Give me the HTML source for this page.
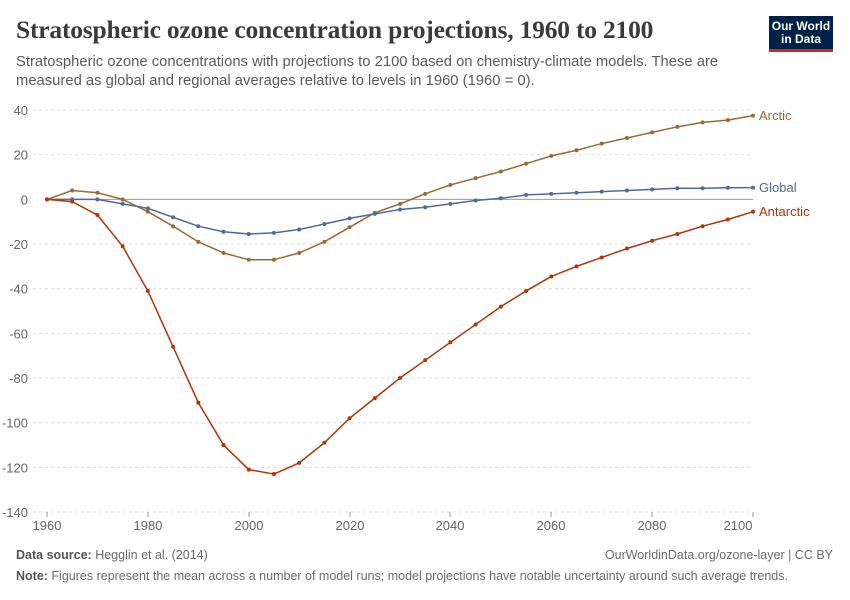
<!DOCTYPE html>
<html><head><meta charset="utf-8"><style>
body{margin:0;background:#fff;width:850px;height:600px;overflow:hidden;font-family:"Liberation Sans",sans-serif;}
.t{position:absolute;left:16px;top:15px;font-family:"Liberation Serif",serif;font-weight:bold;font-size:25.5px;color:#3b3b3b;letter-spacing:-0.2px}
.s{position:absolute;left:16px;top:53px;font-size:14.8px;line-height:19px;color:#5b5b5b;width:760px}
.logo{position:absolute;left:769px;top:16px;width:64px;background:#002147;border-bottom:3px solid #ce261e;color:#fff;font-size:12px;font-weight:bold;line-height:13px;text-align:center;padding-top:4px;box-sizing:content-box;height:29px}
.f{position:absolute;font-size:12.5px;color:#6b6b6b}
</style></head><body>
<div class="t">Stratospheric ozone concentration projections, 1960 to 2100</div>
<div class="s">Stratospheric ozone concentrations with projections to 2100 based on chemistry-climate models. These are measured as global and regional averages relative to levels in 1960 (1960 = 0).</div>
<div class="logo">Our World<br>in Data</div>
<svg width="850" height="600" style="position:absolute;left:0;top:0">
<g stroke="#ddd" stroke-dasharray="3,3" stroke-width="1">
<line x1="33" x2="753" y1="110" y2="110"/><line x1="33" x2="753" y1="154.7" y2="154.7"/>
<line x1="33" x2="753" y1="244" y2="244"/><line x1="33" x2="753" y1="288.7" y2="288.7"/><line x1="33" x2="753" y1="333.4" y2="333.4"/><line x1="33" x2="753" y1="378" y2="378"/><line x1="33" x2="753" y1="422.7" y2="422.7"/><line x1="33" x2="753" y1="467.4" y2="467.4"/><line x1="33" x2="753" y1="512" y2="512"/>
</g>
<line x1="47" x2="753" y1="199.4" y2="199.4" stroke="#999"/>
<g stroke="#999"><line x1="47" x2="47" y1="512" y2="517"/><line x1="148" x2="148" y1="512" y2="517"/><line x1="249" x2="249" y1="512" y2="517"/><line x1="350" x2="350" y1="512" y2="517"/><line x1="450" x2="450" y1="512" y2="517"/><line x1="551" x2="551" y1="512" y2="517"/><line x1="652" x2="652" y1="512" y2="517"/><line x1="753" x2="753" y1="512" y2="517"/></g>
<g font-size="13" fill="#666" text-anchor="end">
<text x="28" y="115">40</text><text x="28" y="159.7">20</text><text x="28" y="204.4">0</text><text x="28" y="249">-20</text><text x="28" y="293.7">-40</text><text x="28" y="338.4">-60</text><text x="28" y="383">-80</text><text x="28" y="427.7">-100</text><text x="28" y="472.4">-120</text><text x="28" y="517">-140</text>
</g>
<g font-size="13" fill="#666" text-anchor="middle">
<text x="47" y="530">1960</text><text x="148" y="530">1980</text><text x="249" y="530">2000</text><text x="350" y="530">2020</text><text x="450" y="530">2040</text><text x="551" y="530">2060</text><text x="652" y="530">2080</text><text x="738" y="530">2100</text>
</g>
<g transform="translate(47,199.4) scale(5.043,-2.233)" fill="none" stroke-linejoin="round">
<g stroke="#9a6a33">
<polyline vector-effect="non-scaling-stroke" stroke-width="1.5" points="0,0 5,4 10,3 15,0 20,-5.5 25,-12 30,-19 35,-24 40,-27 45,-27 50,-24 55,-19 60,-12.5 65,-6 70,-2 75,2.5 80,6.5 85,9.5 90,12.5 95,16 100,19.5 105,22 110,25 115,27.5 120,30 125,32.5 130,34.5 135,35.5 140,37.5"/>
<path vector-effect="non-scaling-stroke" stroke-width="4" stroke-linecap="round" d="M0,0l0,0M5,4l0,0M10,3l0,0M15,0l0,0M20,-5.5l0,0M25,-12l0,0M30,-19l0,0M35,-24l0,0M40,-27l0,0M45,-27l0,0M50,-24l0,0M55,-19l0,0M60,-12.5l0,0M65,-6l0,0M70,-2l0,0M75,2.5l0,0M80,6.5l0,0M85,9.5l0,0M90,12.5l0,0M95,16l0,0M100,19.5l0,0M105,22l0,0M110,25l0,0M115,27.5l0,0M120,30l0,0M125,32.5l0,0M130,34.5l0,0M135,35.5l0,0M140,37.5l0,0"/>
</g>
<g stroke="#4c6a9c">
<polyline vector-effect="non-scaling-stroke" stroke-width="1.5" points="0,0 5,0 10,0 15,-2 20,-4 25,-8 30,-12 35,-14.5 40,-15.5 45,-15 50,-13.5 55,-11 60,-8.5 65,-6.5 70,-4.5 75,-3.5 80,-2 85,-0.5 90,0.5 95,2 100,2.5 105,3 110,3.5 115,4 120,4.5 125,5 130,5 135,5.2 140,5.3"/>
<path vector-effect="non-scaling-stroke" stroke-width="4" stroke-linecap="round" d="M0,0l0,0M5,0l0,0M10,0l0,0M15,-2l0,0M20,-4l0,0M25,-8l0,0M30,-12l0,0M35,-14.5l0,0M40,-15.5l0,0M45,-15l0,0M50,-13.5l0,0M55,-11l0,0M60,-8.5l0,0M65,-6.5l0,0M70,-4.5l0,0M75,-3.5l0,0M80,-2l0,0M85,-0.5l0,0M90,0.5l0,0M95,2l0,0M100,2.5l0,0M105,3l0,0M110,3.5l0,0M115,4l0,0M120,4.5l0,0M125,5l0,0M130,5l0,0M135,5.2l0,0M140,5.3l0,0"/>
</g>
<g stroke="#b13507">
<polyline vector-effect="non-scaling-stroke" stroke-width="1.5" points="0,0 5,-1 10,-7 15,-21 20,-41 25,-66 30,-91 35,-110 40,-121 45,-123 50,-118 55,-109 60,-98 65,-89 70,-80 75,-72 80,-64 85,-56 90,-48 95,-41 100,-34.5 105,-30 110,-26 115,-22 120,-18.5 125,-15.5 130,-12 135,-9 140,-5.5"/>
<path vector-effect="non-scaling-stroke" stroke-width="4" stroke-linecap="round" d="M0,0l0,0M5,-1l0,0M10,-7l0,0M15,-21l0,0M20,-41l0,0M25,-66l0,0M30,-91l0,0M35,-110l0,0M40,-121l0,0M45,-123l0,0M50,-118l0,0M55,-109l0,0M60,-98l0,0M65,-89l0,0M70,-80l0,0M75,-72l0,0M80,-64l0,0M85,-56l0,0M90,-48l0,0M95,-41l0,0M100,-34.5l0,0M105,-30l0,0M110,-26l0,0M115,-22l0,0M120,-18.5l0,0M125,-15.5l0,0M130,-12l0,0M135,-9l0,0M140,-5.5l0,0"/>
</g>
</g>
<g font-size="13">
<text x="759" y="120" fill="#9a6a33">Arctic</text>
<text x="759" y="192" fill="#4c6a9c">Global</text>
<text x="759" y="216" fill="#b13507">Antarctic</text>
</g>
</svg>
<div class="f" style="left:16px;top:548px"><b style="color:#555">Data source:</b> Hegglin et al. (2014)</div>
<div class="f" style="right:17px;top:548px">OurWorldinData.org/ozone-layer | CC BY</div>
<div class="f" style="left:16px;top:569px"><b style="color:#555">Note:</b> Figures represent the mean across a number of model runs; model projections have notable uncertainty around such average trends.</div>
</body></html>
